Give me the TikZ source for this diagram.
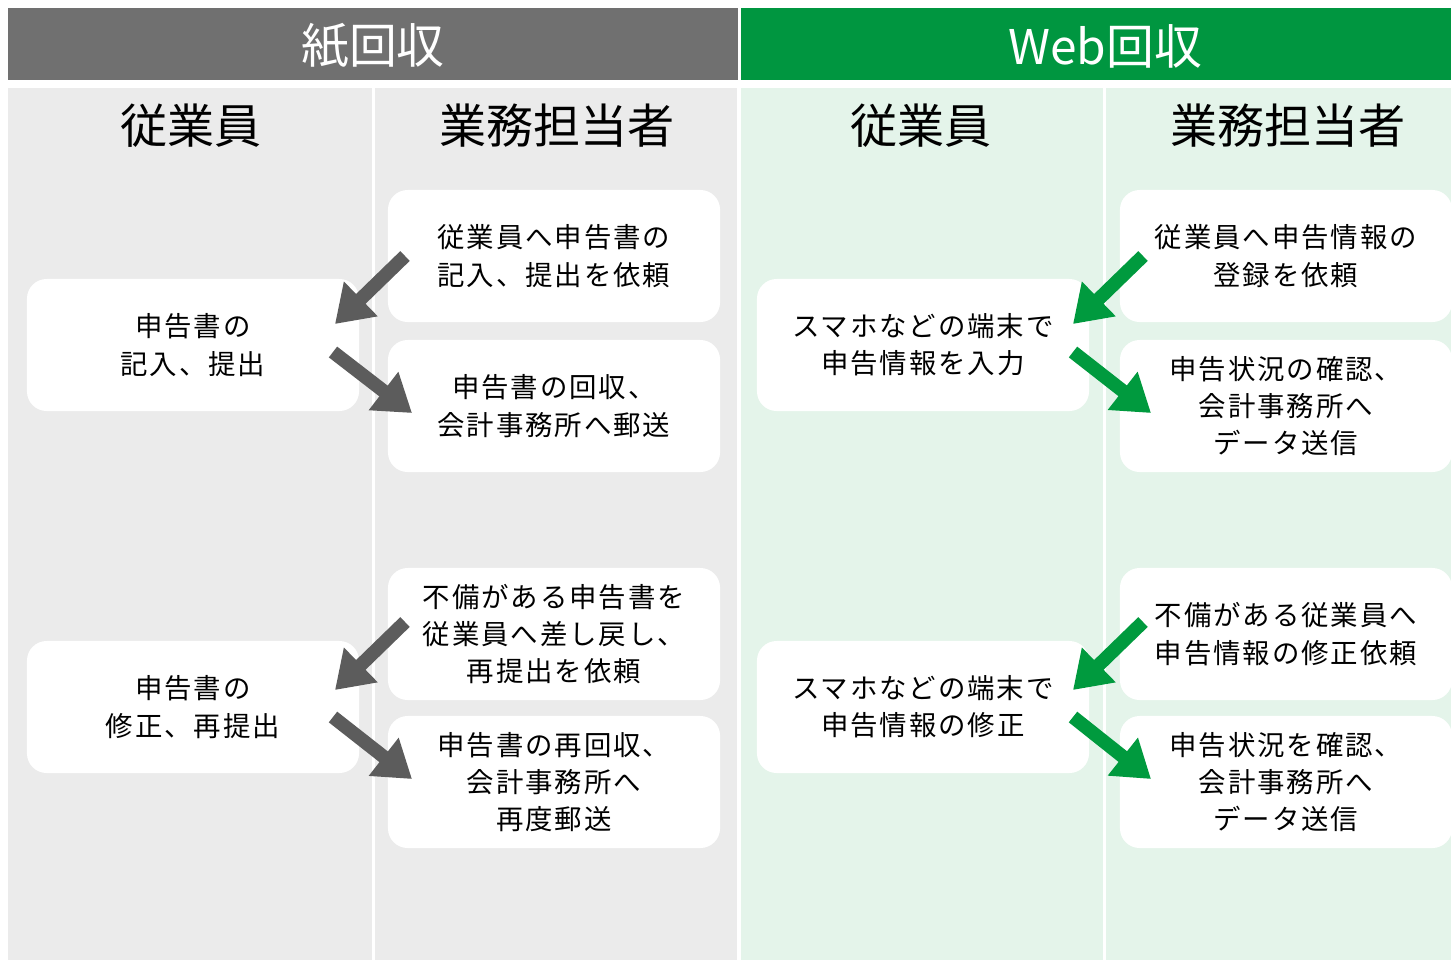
\documentclass[tikz,border=0pt]{standalone}
\usepackage{fontspec}
\setmainfont{Noto Sans CJK JP}
\newfontfamily\boxfont[LetterSpace=7]{Noto Sans CJK JP}
\usetikzlibrary{arrows.meta}
\definecolor{hdgray}{HTML}{707070}
\definecolor{hdgreen}{HTML}{009640}
\definecolor{bggray}{HTML}{EBEBEB}
\definecolor{bggreen}{HTML}{E4F4EA}
\definecolor{argray}{HTML}{5C5C5C}
\definecolor{argreen}{HTML}{009A3E}
\begin{document}
\begin{tikzpicture}[x=0.025cm, y=-0.025cm,
	box/.style = {fill=white, rounded corners=14pt, minimum width=8.3cm, minimum height=3.3cm, align=center, font=\boxfont\fontsize{19.5}{26.5}\selectfont},
	head/.style = {text=white, font=\fontsize{34}{34}\selectfont},
	title/.style = {font=\fontsize{33.5}{33.5}\selectfont},
	grayarrow/.style = {argray, line width=0.34cm, -{Triangle[length=0.9cm, width=1.15cm]}},
	greenarrow/.style = {argreen, line width=0.34cm, -{Triangle[length=0.9cm, width=1.15cm]}}]

	\useasboundingbox (0,0) rectangle (1451,960);
	\clip (0,0) rectangle (1451,960);

	% backgrounds
	\fill[hdgray] (8,8) rectangle (738,80);
	\fill[hdgreen] (741,8) rectangle (1451,80);
	\fill[bggray] (8,88) rectangle (372,960);
	\fill[bggray] (375,88) rectangle (737,960);
	\fill[bggreen] (741,88) rectangle (1103,960);
	\fill[bggreen] (1106,88) rectangle (1460,960);

	\node[head] (paper) at (373,46) {紙回収};
	\node[head] (web) at (1105,46) {Web回収};
	\node[title] (emp1) at (191,126) {従業員};
	\node[title] (staff1) at (557,126) {業務担当者};
	\node[title] (emp2) at (921,126) {従業員};
	\node[title] (staff2) at (1288,126) {業務担当者};

	% paper
	\node[box] (pe1) at (193,345) {申告書の\\記入、提出};
	\node[box] (pe2) at (193,707) {申告書の\\修正、再提出};
	\node[box] (ps1) at (554,256) {従業員へ申告書の\\記入、提出を依頼};
	\node[box] (ps2) at (554,406) {申告書の回収、\\会計事務所へ郵送};
	\node[box] (ps3) at (554,634) {不備がある申告書を\\従業員へ差し戻し、\\再提出を依頼};
	\node[box] (ps4) at (554,782) {申告書の再回収、\\会計事務所へ\\再度郵送};

	% web
	\node[box] (we1) at (923,345) {スマホなどの端末で\\申告情報を入力};
	\node[box] (we2) at (923,707) {スマホなどの端末で\\申告情報の修正};
	\node[box] (ws1) at (1286,256) {従業員へ申告情報の\\登録を依頼};
	\node[box] (ws2) at (1286,406) {申告状況の確認、\\会計事務所へ\\データ送信};
	\node[box] (ws3) at (1286,634) {不備がある従業員へ\\申告情報の修正依頼};
	\node[box] (ws4) at (1286,782) {申告状況を確認、\\会計事務所へ\\データ送信};

	% arrow ends
	\coordinate (pa1) at (405,256);
	\coordinate (pb1) at (335,324);
	\coordinate (pa2) at (333,352);
	\coordinate (pb2) at (412,413);
	\coordinate (pa3) at (405,622);
	\coordinate (pb3) at (335,690);
	\coordinate (pa4) at (333,717);
	\coordinate (pb4) at (412,779);
	\coordinate (wa1) at (1143,256);
	\coordinate (wb1) at (1073,324);
	\coordinate (wa2) at (1073,352);
	\coordinate (wb2) at (1151,413);
	\coordinate (wa3) at (1143,622);
	\coordinate (wb3) at (1073,690);
	\coordinate (wa4) at (1073,717);
	\coordinate (wb4) at (1151,779);

	\draw[grayarrow] (pa1) -- (pb1);
	\draw[grayarrow] (pa2) -- (pb2);
	\draw[grayarrow] (pa3) -- (pb3);
	\draw[grayarrow] (pa4) -- (pb4);
	\draw[greenarrow] (wa1) -- (wb1);
	\draw[greenarrow] (wa2) -- (wb2);
	\draw[greenarrow] (wa3) -- (wb3);
	\draw[greenarrow] (wa4) -- (wb4);
\end{tikzpicture}
\end{document}
